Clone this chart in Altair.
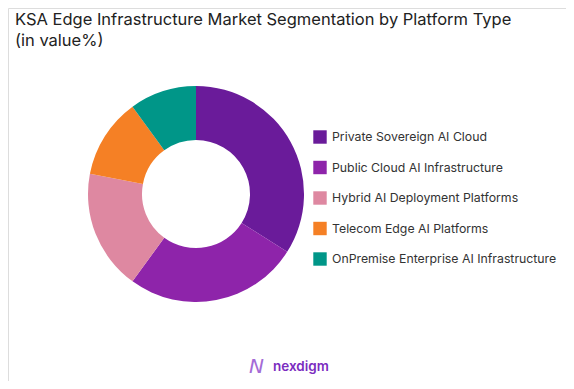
import altair as alt
import pandas as pd

categories = [
    "Private Sovereign AI Cloud",
    "Public Cloud AI Infrastructure",
    "Hybrid AI Deployment Platforms",
    "Telecom Edge AI Platforms",
    "OnPremise Enterprise AI Infrastructure",
]
values = [34, 26, 18, 12, 10]
colors = ["#6A1B9A", "#8E24AA", "#DE88A1", "#F58025", "#009688"]

title_lines = ["KSA Edge Infrastructure Market Segmentation by Platform Type", "(in value%)"]

df = pd.DataFrame({"category": categories, "value": values, "order": list(range(len(values)))})

W, H = 558, 373

donut = alt.Chart(df).mark_arc(outerRadius=108, innerRadius=54, stroke=None).encode(
    theta=alt.Theta("value:Q", stack=True),
    order=alt.Order("order:Q"),
    color=alt.Color(
        "category:N",
        sort=categories,
        scale=alt.Scale(domain=categories, range=colors),
        legend=alt.Legend(
            title=None,
            orient="none",
            legendX=305,
            legendY=122,
            symbolType="square",
            symbolSize=180,
            symbolStrokeWidth=0,
            labelFontSize=12.3,
            labelFont="Inter",
            labelColor="#333333",
            labelOffset=5,
            rowPadding=16.5,
            labelLimit=300,
        ),
    ),
    x=alt.value(188),
    y=alt.value(186),
)

tdf = pd.DataFrame({"t": title_lines, "i": [0, 1]})
title = alt.Chart(tdf).mark_text(
    align="left", baseline="alphabetic", font="Inter", fontSize=16.5, color="#222222"
).encode(
    text="t:N",
    x=alt.value(7),
    y=alt.Y("i:Q", scale=alt.Scale(domain=[0, 1], range=[17, 38]), axis=None),
)

logo_df = pd.DataFrame({"t": ["nexdigm"]})
logo = alt.Chart(logo_df).mark_text(
    align="left", baseline="alphabetic", font="Inter", fontSize=13.5, fontWeight=600, color="#7B2CBF"
).encode(text="t:N", x=alt.value(265), y=alt.value(363))

icon_df = pd.DataFrame({"t": ["N"]})
icon = alt.Chart(icon_df).mark_text(
    align="left", baseline="alphabetic", font="DejaVu Sans", fontSize=20, fontWeight=300,
    fontStyle="italic", color="#A46BD6"
).encode(text="t:N", x=alt.value(241), y=alt.value(365))

chart = alt.layer(donut, title, logo, icon).resolve_scale(y="independent").properties(
    width=W, height=H, padding=0, autosize=alt.AutoSizeParams(type="none")
).configure_view(stroke="transparent", strokeWidth=0, fill="white").configure(background="white")

chart.save("out.html", embed_options={"renderer": "svg", "actions": False})
